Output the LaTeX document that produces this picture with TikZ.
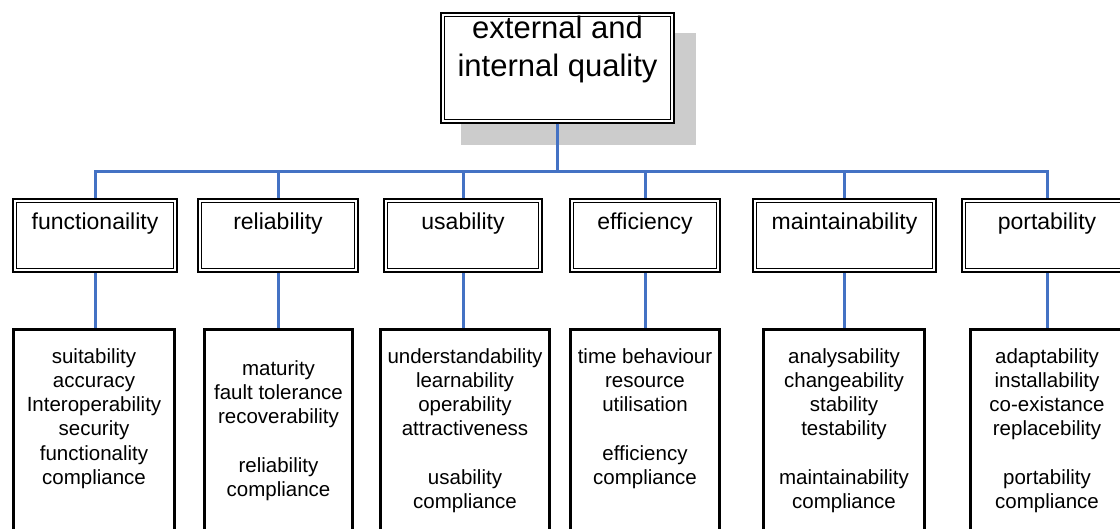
\documentclass[tikz,border=0pt]{standalone}
\usepackage{fontspec}
\setmainfont{Liberation Sans}
\usetikzlibrary{calc,shadows}
\definecolor{LinkBlue}{RGB}{68,114,196}
\newcommand{\stack}[1]{\begin{tabular}[t]{@{}c@{}}#1\end{tabular}}
\tikzset{
    topbox/.style = {draw, double, line width=1.6pt, double distance=2.2pt,
        fill=white, rectangle, inner sep=0pt, outer sep=2.7pt, anchor=north,
        minimum width=229.6pt, text height=23.6pt, text depth=83pt,
        font=\fontsize{31}{38}\selectfont,
        drop shadow={shadow xshift=21pt, shadow yshift=-21.5pt,
            fill=black!20, draw=black!20, line width=5.4pt, opacity=1}},
    charbox/.style = {draw, double, line width=1.6pt, double distance=2.2pt,
        fill=white, rectangle, inner sep=0pt, outer sep=2.7pt, anchor=north,
        text height=29.3pt, text depth=40.3pt,
        font=\fontsize{23}{27}\selectfont},
    subbox/.style = {draw, line width=2.8pt, fill=white, rectangle,
        inner sep=0pt, outer sep=1.4pt, anchor=north,
        text height=34pt, text depth=181.7pt,
        font=\fontsize{20.5}{24.2}\selectfont},
    link/.style = {draw=LinkBlue, line width=3pt}
}

\begin{document}
\begin{tikzpicture}[x=1pt, y=1pt]
  \useasboundingbox (0,0) rectangle (1120,-529);
  \node[topbox] (quality) at (557.5,-12) {\stack{external and\\internal quality}};
  % characteristics
  \node[charbox, minimum width=160.6pt] (fun) at (95,-198) {functionaility};
  \node[charbox, minimum width=156.6pt] (rel) at (278,-198) {reliability};
  \node[charbox, minimum width=154.6pt] (usa) at (463,-198) {usability};
  \node[charbox, minimum width=146.6pt] (eff) at (645,-198) {efficiency};
  \node[charbox, minimum width=179.6pt] (mai) at (844.5,-198) {maintainability};
  \node[charbox, minimum width=166.6pt] (por) at (1047,-198) {portability};
  \coordinate (bus) at (557.5,-172);
  \foreach \n in {fun,rel,usa,eff,mai,por}
    \draw[link] (quality.south) -- (bus) -| (\n.north);
  % sub-characteristics
  \node[subbox, minimum width=161.4pt] (fun-sub) at (94,-328)
    {\stack{suitability\\accuracy\\Interoperability\\security\\functionality\\compliance}};
  \node[subbox, minimum width=148.4pt, text height=46.2pt, text depth=169.5pt] (rel-sub) at (278.5,-328)
    {\stack{maturity\\fault tolerance\\recoverability\\ \\reliability\\compliance}};
  \node[subbox, minimum width=169.4pt] (usa-sub) at (465,-328)
    {\stack{understandability\\learnability\\operability\\attractiveness\\ \\usability\\compliance}};
  \node[subbox, minimum width=149.4pt] (eff-sub) at (645,-328)
    {\stack{time behaviour\\resource\\utilisation\\ \\efficiency\\compliance}};
  \node[subbox, minimum width=161.4pt] (mai-sub) at (844,-328)
    {\stack{analysability\\changeability\\stability\\testability\\ \\maintainability\\compliance}};
  \node[subbox, minimum width=153.4pt] (por-sub) at (1047,-328)
    {\stack{adaptability\\installability\\co-existance\\replacebility\\ \\portability\\compliance}};
  \foreach \n in {fun,rel,usa,eff,mai,por}
    \draw[link] (\n.south) -- (\n.south |- \n-sub.north);
\end{tikzpicture}
\end{document}
